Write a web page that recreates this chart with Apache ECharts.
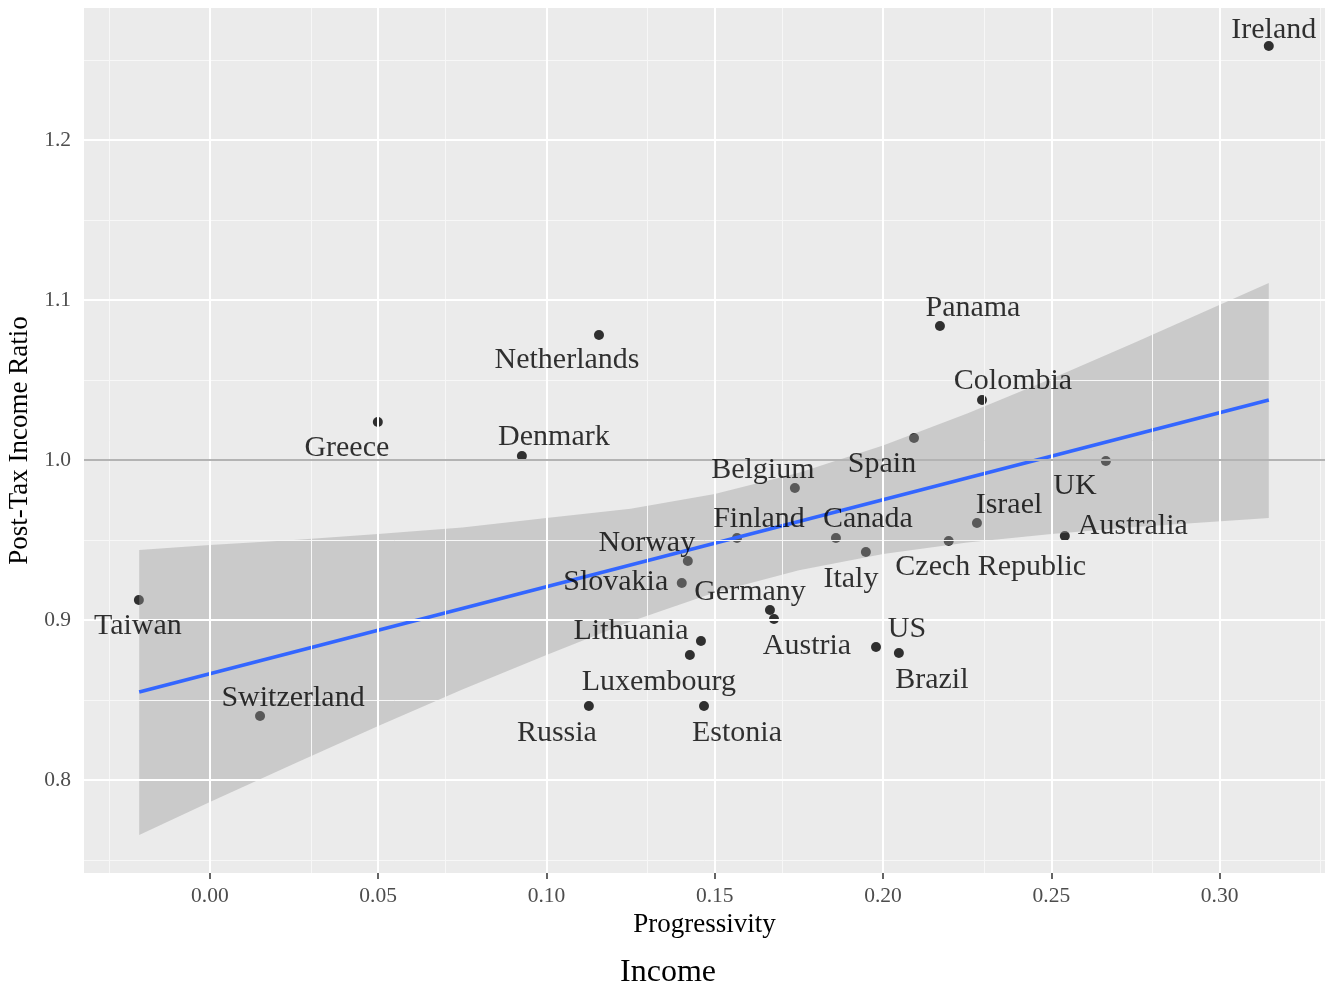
<!DOCTYPE html>
<html>
<head>
<meta charset="utf-8">
<script src="https://cdn.jsdelivr.net/npm/echarts@6/dist/echarts.min.js"></script>
<style>
html,body{margin:0;padding:0;background:#fff;}
#chart{width:1325px;height:988px;}
</style>
</head>
<body>
<div id="chart"></div>
<script>
// ---- data ----
const countries = ["Ireland","Panama","Colombia","Spain","UK","Belgium","Israel","Australia","Finland","Canada","Czech Republic","Italy","Norway","Slovakia","Germany","Austria","Lithuania","Luxembourg","US","Brazil","Russia","Estonia","Taiwan","Switzerland","Greece","Denmark","Netherlands"];
const progressivity = [0.3146,0.2169,0.2294,0.2092,0.2662,0.1738,0.2279,0.2540,0.1566,0.1860,0.2195,0.1949,0.1420,0.1402,0.1664,0.1676,0.1459,0.1426,0.1979,0.2047,0.1126,0.1468,-0.0211,0.0149,0.0499,0.0927,0.1156];
const postTaxRatio = [1.2588,1.0838,1.0375,1.0138,0.9994,0.9825,0.9606,0.9525,0.9513,0.9513,0.9494,0.9425,0.9369,0.9231,0.9063,0.9006,0.8869,0.8781,0.8831,0.8794,0.8463,0.8463,0.9125,0.8400,1.0238,1.0025,1.0781];

// fitted line (endpoints) and confidence band
const fitX = [-0.021, 0.3146];
const fitY = [0.855, 1.0375];
const bandX     = [-0.021, 0.000, 0.025, 0.050, 0.075, 0.100, 0.125, 0.150, 0.175, 0.200, 0.225, 0.250, 0.275, 0.3146];
const bandUpper = [0.9438, 0.9469, 0.9500, 0.9538, 0.9578, 0.9638, 0.9696, 0.9788, 0.9920, 1.0091, 1.0290, 1.0508, 1.0736, 1.1106];
const bandLower = [0.7656, 0.7863, 0.8101, 0.8338, 0.8566, 0.8781, 0.8991, 0.9172, 0.9311, 0.9413, 0.9484, 0.9538, 0.9582, 0.9638];

const refLineY = 1.0;
const xTicks = [0, 0.05, 0.10, 0.15, 0.20, 0.25, 0.30];
const xMinor = [-0.025, 0.025, 0.075, 0.125, 0.175, 0.225, 0.275, 0.325];
const yTicks = [0.8, 0.9, 1.0, 1.1, 1.2];
const yMinor = [0.75, 0.85, 0.95, 1.05, 1.15, 1.25];

// label placement (pixel offsets from each point, like ggrepel)
const labelOffsets = {
  "Ireland":[5,-18],"Panama":[33,-20],"Colombia":[31,-21],"Spain":[-32,24],"UK":[-31,23],
  "Belgium":[-32,-20],"Israel":[32,-20],"Australia":[68,-12],"Finland":[22,-21],"Canada":[32,-21],
  "Czech Republic":[42,24],"Italy":[-15,25],"Norway":[-41,-20],"Slovakia":[-66,-3],"Germany":[-20,-20],
  "Austria":[33,25],"Lithuania":[-70,-12],"Luxembourg":[-31,25],"US":[31,-20],"Brazil":[33,25],
  "Russia":[-32,25],"Estonia":[33,25],"Taiwan":[-1,24],"Switzerland":[33,-20],"Greece":[-31,24],
  "Denmark":[32,-21],"Netherlands":[-32,23]
};

const FONT = '"Liberation Serif", "Times New Roman", serif';
const points = countries.map((n, i) => ({ name: n, value: [progressivity[i], postTaxRatio[i]] }));

const gridMarks = [];
xMinor.forEach(v => gridMarks.push({ xAxis: v, lineStyle: { color: '#f7f7f7', width: 1, type: 'solid' } }));
yMinor.forEach(v => gridMarks.push({ yAxis: v, lineStyle: { color: '#f7f7f7', width: 1, type: 'solid' } }));
xTicks.forEach(v => gridMarks.push({ xAxis: v, lineStyle: { color: '#ffffff', width: 2, type: 'solid' } }));
yTicks.forEach(v => gridMarks.push({ yAxis: v, lineStyle: { color: '#ffffff', width: 2, type: 'solid' } }));

const chart = echarts.init(document.getElementById('chart'));
chart.setOption({
  animation: false,
  backgroundColor: '#ffffff',
  grid: { left: 84, right: 0, top: 8, bottom: 115, show: true, backgroundColor: '#EBEBEB', borderWidth: 0, outerBoundsMode: 'none', containLabel: false },
  xAxis: {
    type: 'value', min: -0.0374, max: 0.3313,
    axisLine: { show: false },
    axisTick: { show: true, customValues: xTicks, length: 6, lineStyle: { color: '#333333', width: 1.5 } },
    axisLabel: { customValues: xTicks, formatter: v => v.toFixed(2), color: '#4D4D4D', fontFamily: FONT, fontSize: 21.5, margin: 12 },
    splitLine: { show: false },
    name: 'Progressivity', nameLocation: 'middle', nameGap: 38,
    nameTextStyle: { color: '#000', fontFamily: FONT, fontSize: 27 }
  },
  yAxis: {
    type: 'value', min: 0.7419, max: 1.2825,
    axisLine: { show: false },
    axisTick: { show: true, customValues: yTicks, length: 6, lineStyle: { color: '#333333', width: 1.5 } },
    axisLabel: { customValues: yTicks, formatter: v => v.toFixed(1), color: '#4D4D4D', fontFamily: FONT, fontSize: 21.5, margin: 13 },
    splitLine: { show: false },
    name: 'Post-Tax Income Ratio', nameLocation: 'middle', nameGap: 41, nameRotate: 90,
    nameTextStyle: { color: '#000', fontFamily: FONT, fontSize: 27 }
  },
  graphic: [{
    type: 'text', x: 668, y: 973,
    style: { text: 'Income', textAlign: 'center', textVerticalAlign: 'middle', font: '32px ' + FONT, fill: '#000' }
  }],
  series: [
    {
      type: 'scatter', z: 0, data: [], silent: true,
      markLine: { silent: true, symbol: ['none', 'none'], label: { show: false }, animation: false,
        lineStyle: { type: 'solid' }, data: gridMarks }
    },
    {
      type: 'scatter', z: 1, data: [], silent: true,
      markLine: { silent: true, symbol: ['none', 'none'], label: { show: false }, animation: false,
        lineStyle: { type: 'solid' },
        data: [{ yAxis: refLineY, lineStyle: { color: '#b3b3b3', width: 2, type: 'solid' } }] }
    },
    {
      type: 'scatter', z: 2, data: points, symbol: 'circle', symbolSize: 10,
      itemStyle: { color: '#000000' }, label: { show: false }
    },
    {
      type: 'custom', z: 3, silent: true,
      data: [[bandX[0], bandUpper[0]]],
      renderItem: function (params, api) {
        const pts = [];
        for (let i = 0; i < bandX.length; i++) pts.push(api.coord([bandX[i], bandUpper[i]]));
        for (let i = bandX.length - 1; i >= 0; i--) pts.push(api.coord([bandX[i], bandLower[i]]));
        return { type: 'polygon', shape: { points: pts }, style: { fill: 'rgba(153,153,153,0.4)' } };
      }
    },
    {
      type: 'line', z: 4, silent: true, symbol: 'none',
      data: fitX.map((x, i) => [x, fitY[i]]),
      lineStyle: { color: '#3366FF', width: 3.5 }
    },
    {
      type: 'scatter', z: 5, silent: true, data: points, symbolSize: 0.1,
      itemStyle: { color: 'rgba(0,0,0,0)' },
      label: { show: true, position: 'inside', formatter: p => p.name, color: '#000', fontFamily: FONT, fontSize: 30, align: 'center', verticalAlign: 'middle' },
      labelLayout: function (params) {
        const off = labelOffsets[countries[params.dataIndex]] || [0, 0];
        return { dx: off[0], dy: off[1] + 2, hideOverlap: false };
      }
    }
  ]
});
</script>
</body>
</html>
